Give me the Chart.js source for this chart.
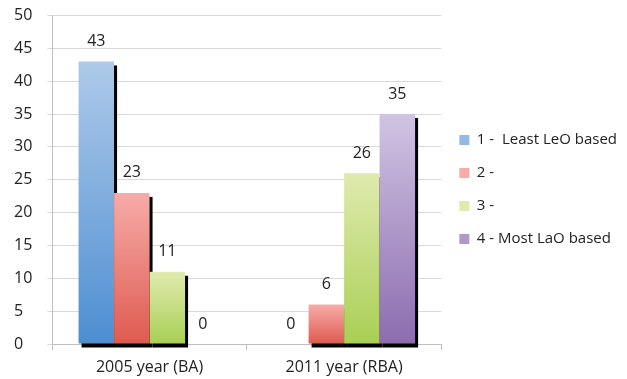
<!DOCTYPE html>
<html>
<head>
<meta charset="utf-8">
<script src="https://cdn.jsdelivr.net/npm/chart.js@4"></script>
<style>
  html, body { margin: 0; padding: 0; background: #fff; }
  #wrap { width: 627px; height: 379px; }
</style>
</head>
<body>
<div id="wrap"><canvas id="chart"></canvas></div>
<script>
const categories = ['2005 year (BA)', '2011 year (RBA)'];
const seriesNames = ['1 -  Least LeO based', '2 -', '3 -', '4 - Most LaO based'];
const series1 = [43, 0];
const series2 = [23, 6];
const series3 = [11, 26];
const series4 = [0, 35];
const yMin = 0, yMax = 50, yStep = 5;

// light at the top of each bar, darker at the bottom
const topColors = ['#aecaea', '#f7aca8', '#dfeaae', '#d0c4e2'];
const bottomColors = ['#4d8ed1', '#de5a50', '#a9cf55', '#8c6cb0'];
const midColors = ['#7fabde', '#ec8580', '#c5dd82', '#ae98c9'];

Chart.defaults.font.family = '"Open Sans", sans-serif';
Chart.defaults.color = '#222';

function barGradient(i) {
    return (ctx) => {
        const chart = ctx.chart;
        if (ctx.type !== 'data' || !chart.chartArea) return midColors[i];
        const y = chart.scales.y;
        const top = y.getPixelForValue(ctx.raw);
        const bottom = y.getPixelForValue(0);
        if (bottom - top < 1) return midColors[i];
        const g = chart.ctx.createLinearGradient(0, top, 0, bottom);
        g.addColorStop(0, topColors[i]);
        g.addColorStop(1, bottomColors[i]);
        return g;
    };
}

// hard black drop shadow, drawn under all bars
const barShadow = {
    id: 'barShadow',
    beforeDatasetsDraw(chart) {
        const ctx = chart.ctx;
        ctx.save();
        ctx.fillStyle = '#000';
        chart.getSortedVisibleDatasetMetas().forEach(meta => {
            meta.data.forEach(bar => {
                const { x, y, base, width } = bar.getProps(['x', 'y', 'base', 'width'], true);
                if (base - y < 1) return;
                ctx.fillRect(x - width / 2 + 3, y + 4, width, base - y);
            });
        });
        ctx.restore();
    }
};

const valueLabels = {
    id: 'valueLabels',
    afterDatasetsDraw(chart) {
        const ctx = chart.ctx;
        ctx.save();
        ctx.font = '16px "Open Sans", sans-serif';
        ctx.fillStyle = '#222';
        ctx.textAlign = 'center';
        ctx.textBaseline = 'middle';
        chart.getSortedVisibleDatasetMetas().forEach(meta => {
            const values = chart.data.datasets[meta.index].data;
            meta.data.forEach((bar, j) => {
                const { x, y } = bar.getProps(['x', 'y'], true);
                ctx.fillText(String(values[j]), x, y - 20);
            });
        });
        ctx.restore();
    }
};

const allSeries = [series1, series2, series3, series4];

new Chart(document.getElementById('chart'), {
    type: 'bar',
    data: {
        labels: categories,
        datasets: allSeries.map((data, i) => ({
            label: seriesNames[i],
            data,
            backgroundColor: barGradient(i),
            borderWidth: 0,
            categoryPercentage: 0.73,
            barPercentage: 1.0
        }))
    },
    options: {
        responsive: true,
        maintainAspectRatio: false,
        animation: false,
        layout: { padding: { left: 14, top: 0, right: 0, bottom: 0 } },
        plugins: {
            tooltip: { enabled: false },
            legend: {
                position: 'right',
                maxWidth: 187,
                labels: {
                    boxWidth: 10,
                    boxHeight: 10,
                    padding: 18,
                    color: '#222',
                    font: { size: 15 }
                }
            }
        },
        scales: {
            x: {
                afterFit: (scale) => { scale.height = 35; },
                grid: {
                    offset: true,
                    drawOnChartArea: false,
                    tickLength: 6,
                    color: '#bfbfbf'
                },
                border: { color: '#bfbfbf' },
                ticks: { padding: 8, color: '#222', font: { size: 16 } }
            },
            y: {
                min: yMin,
                max: yMax,
                ticks: {
                    stepSize: yStep,
                    padding: 7.5,
                    crossAlign: 'far',
                    color: '#222',
                    font: { size: 16, lineHeight: 1 }
                },
                grid: { color: '#d9d9d9', tickLength: 5 },
                border: { color: '#bfbfbf' }
            }
        }
    },
    plugins: [barShadow, valueLabels]
});
</script>
</body>
</html>
